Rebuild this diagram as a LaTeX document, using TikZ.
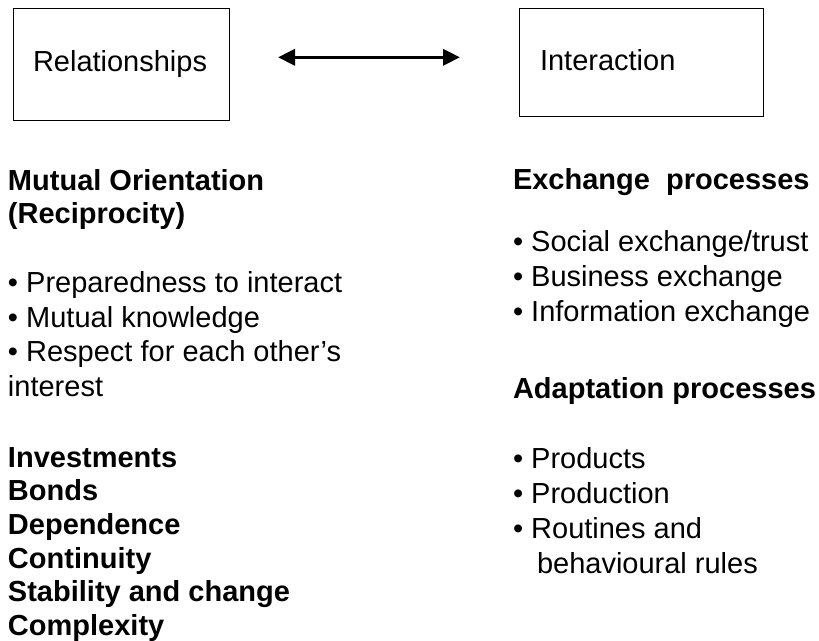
\documentclass[tikz,border=0pt]{standalone}
\usepackage{fontspec}
\setmainfont{Liberation Sans}
\usetikzlibrary{arrows.meta}
\begin{document}
\begin{tikzpicture}[x=1pt,y=-1pt,
  every node/.style={inner sep=0pt, outer sep=0pt},
  box/.style={draw, line width=1pt},
  txt/.style={anchor=base west, font=\fontsize{29}{33.5}\selectfont},
  hd/.style={anchor=base west, font=\fontsize{29}{33.5}\selectfont\bfseries},
  link/.style={line width=3.6pt, {Triangle[length=17pt,width=16pt]}-{Triangle[length=17pt,width=16pt]}}]
\useasboundingbox (0,0) rectangle (819,640);
% boxes
\node[box, minimum width=216pt, minimum height=112.5pt] (rel) at (121,64.5) {};
\node[box, minimum width=244pt, minimum height=108pt] (int) at (641,62.2) {};
\node[txt] (reltxt) at (33,71) {Relationships};
\node[txt] (inttxt) at (540,70) {Interaction};
% arrow
\coordinate (al) at (278,57.3);
\coordinate (ar) at (460,57.3);
\draw[link] (al) -- (ar);
% left column
\node[hd] (l1) at (8,190) {Mutual Orientation};
\node[hd] (l2) at (8,223) {(Reciprocity)};
\node[txt] (l3) at (8,292.5) {• Preparedness to interact};
\node[txt] (l4) at (8,327) {• Mutual knowledge};
\node[txt] (l5) at (8,361.5) {• Respect for each other’s};
\node[txt] (l6) at (8,396) {interest};
\node[hd] (l7) at (8,467) {Investments};
\node[hd] (l8) at (8,500.5) {Bonds};
\node[hd] (l9) at (8,534) {Dependence};
\node[hd] (l10) at (8,568) {Continuity};
\node[hd] (l11) at (8,601.5) {Stability and change};
\node[hd] (l12) at (8,635) {Complexity};
% right column
\node[hd] (r1) at (513,189.5) {Exchange\ \ processes};
\node[txt] (r2) at (513,251.5) {• Social exchange/trust};
\node[txt] (r3) at (513,286.7) {• Business exchange};
\node[txt] (r4) at (513,321.7) {• Information exchange};
\node[hd] (r5) at (513,398) {Adaptation processes};
\node[txt] (r6) at (513,468) {• Products};
\node[txt] (r7) at (513,503) {• Production};
\node[txt] (r8) at (513,538) {• Routines and};
\node[txt] (r9) at (537,573) {behavioural rules};
\end{tikzpicture}
\end{document}
